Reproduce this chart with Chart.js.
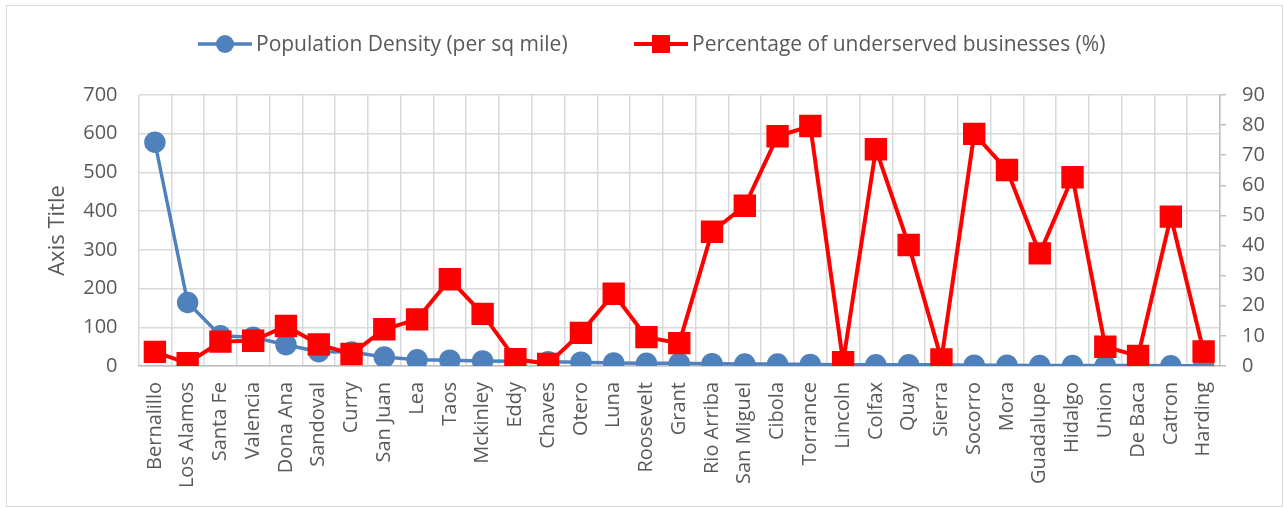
<!DOCTYPE html>
<html>
<head>
<meta charset="utf-8">
<script src="https://cdn.jsdelivr.net/npm/chart.js@4"></script>
<style>
  body { margin: 0; background: #fff; }
  #wrap { width: 1284px; height: 508px; }
</style>
</head>
<body>
<div id="wrap"><canvas id="chart" width="1284" height="508"></canvas></div>
<script>
// datos
const counties = ["Bernalillo", "Los Alamos", "Santa Fe", "Valencia", "Dona Ana", "Sandoval", "Curry", "San Juan",
  "Lea", "Taos", "Mckinley", "Eddy", "Chaves", "Otero", "Luna", "Roosevelt", "Grant", "Rio Arriba", "San Miguel",
  "Cibola", "Torrance", "Lincoln", "Colfax", "Quay", "Sierra", "Socorro", "Mora", "Guadalupe", "Hidalgo", "Union",
  "De Baca", "Catron", "Harding"];

const density = [578, 164, 78, 74, 55, 37, 36, 23, 16, 15, 13, 12, 11, 10, 8, 7, 7, 6, 5, 5, 4, 3, 3, 3, 3,
  2, 2, 1, 1, 1, 1, 0.5, 0.5];

const underserved = [4.7, 0.9, 8.1, 8.4, 13.3, 7.2, 4.0, 12.2, 15.5, 28.8, 17.3, 2.3, 0.7, 11.0, 24.0, 9.6, 7.6,
  44.6, 53.2, 76.3, 79.7, 1.3, 72.0, 40.2, 2.2, 77.1, 65.1, 37.4, 62.7, 6.4, 3.3, 49.6, 4.8];

const leftTicks = { min: 0, max: 700, step: 100 };
const rightTicks = { min: 0, max: 90, step: 10 };

const BLUE = "#4F81BD";
const RED = "#FF0000";
const TEXT = "#595959";
const GRID = "#d9d9d9";
const FONT = "'Open Sans', sans-serif";

// marco exterior del grafico
const borderPlugin = {
  id: "marco",
  beforeDraw(chart) {
    const ctx = chart.ctx;
    ctx.save();
    ctx.strokeStyle = "#d9d9d9";
    ctx.lineWidth = 1;
    ctx.strokeRect(6.5, 5.5, 1276, 501);
    ctx.restore();
  }
};

// leyenda estilo Excel: linea + marcador
const legendPlugin = {
  id: "leyenda",
  afterDraw(chart) {
    const ctx = chart.ctx;
    const y = 44;
    const starts = [198, 634];
    ctx.save();
    ctx.font = "21px " + FONT;
    ctx.textBaseline = "middle";
    chart.data.datasets.forEach((ds, i) => {
      const x = starts[i];
      ctx.strokeStyle = ds.borderColor;
      ctx.lineWidth = ds.borderWidth;
      ctx.beginPath();
      ctx.moveTo(x, y);
      ctx.lineTo(x + 54, y);
      ctx.stroke();
      ctx.fillStyle = ds.borderColor;
      if (ds.pointStyle === "rect") {
        ctx.fillRect(x + 27 - 9, y - 9, 18, 18);
      } else {
        ctx.beginPath();
        ctx.arc(x + 27, y, 9, 0, Math.PI * 2);
        ctx.fill();
      }
      ctx.fillStyle = TEXT;
      ctx.textAlign = "left";
      ctx.fillText(ds.label, x + 58, y + 1);
    });
    ctx.restore();
  }
};

new Chart(document.getElementById("chart"), {
  type: "line",
  data: {
    labels: counties,
    datasets: [
      {
        label: "Population Density (per sq mile)",
        data: density,
        yAxisID: "y",
        borderColor: BLUE,
        backgroundColor: BLUE,
        borderWidth: 3.5,
        pointStyle: "circle",
        pointRadius: 9,
        pointHoverRadius: 9,
        tension: 0,
        order: 2
      },
      {
        label: "Percentage of underserved businesses (%)",
        data: underserved,
        yAxisID: "y1",
        borderColor: RED,
        backgroundColor: RED,
        borderWidth: 4,
        pointStyle: "rect",
        pointRadius: 13,
        pointHoverRadius: 13,
        tension: 0,
        order: 1
      }
    ]
  },
  options: {
    responsive: false,
    animation: false,
    layout: { padding: { top: 95, left: 0, right: 0, bottom: 0 } },
    plugins: {
      legend: { display: false },
      tooltip: { enabled: false }
    },
    scales: {
      x: {
        offset: true,
        grid: { offset: true, color: GRID, lineWidth: 1.5, drawTicks: false },
        border: { color: "#bfbfbf", width: 1.5 },
        ticks: {
          autoSkip: false,
          minRotation: 90,
          maxRotation: 90,
          padding: 16,
          color: TEXT,
          font: { family: FONT, size: 20 }
        },
        afterFit(scale) { scale.height = 142; }
      },
      y: {
        position: "left",
        min: leftTicks.min,
        max: leftTicks.max,
        grid: { color: GRID, lineWidth: 1.5, drawTicks: false },
        border: { display: false },
        ticks: {
          stepSize: leftTicks.step,
          padding: 21,
          color: TEXT,
          font: { family: FONT, size: 20 }
        },
        title: {
          display: true,
          text: "Axis Title",
          color: TEXT,
          font: { family: FONT, size: 22 },
          padding: { top: 45, bottom: 0 }
        },
        afterFit(scale) { scale.width = 138.5; }
      },
      y1: {
        position: "right",
        min: rightTicks.min,
        max: rightTicks.max,
        grid: { drawOnChartArea: false, drawTicks: true, tickLength: 6, color: "#bfbfbf", lineWidth: 1.5 },
        border: { color: "#bfbfbf", width: 1.5 },
        ticks: {
          stepSize: rightTicks.step,
          padding: 16,
          color: TEXT,
          font: { family: FONT, size: 20 }
        },
        afterFit(scale) { scale.width = 64; }
      }
    }
  },
  plugins: [borderPlugin, legendPlugin]
});
</script>
</body>
</html>
